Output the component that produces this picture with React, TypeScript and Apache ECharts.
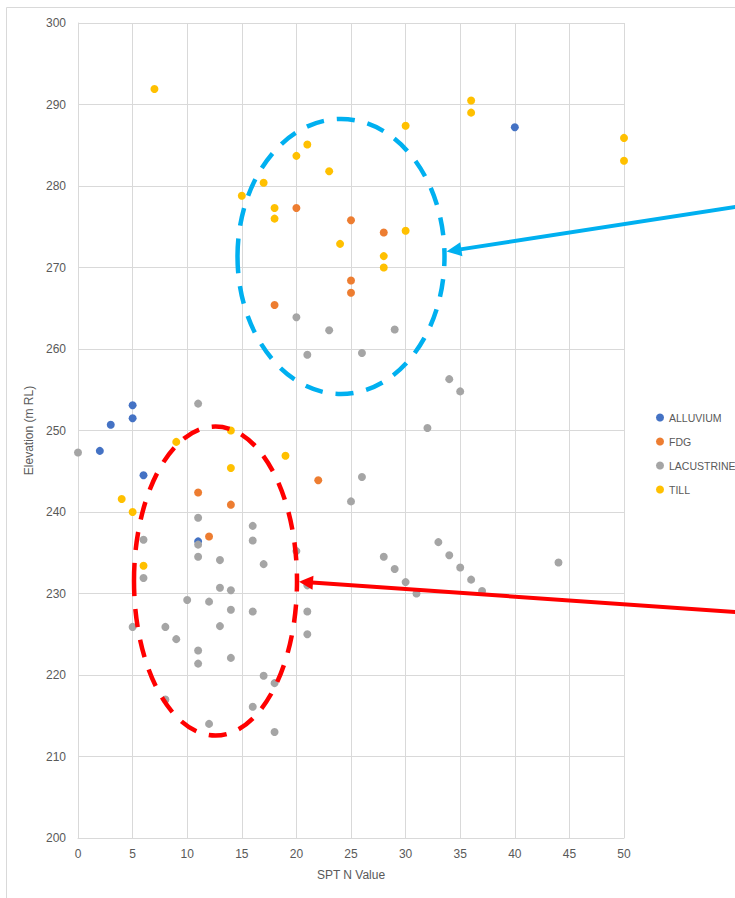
import React, { useEffect, useRef } from "react";
import * as echarts from "echarts";

const seriesNames = ["ALLUVIUM", "FDG", "LACUSTRINE", "TILL"];
const seriesColors = ["#4472C4", "#ED7D31", "#A5A5A5", "#FFC000"];

const alluvium = [[40, 287.2], [5, 253.1], [5, 251.5], [3, 250.7], [2, 247.5], [6, 244.5], [11, 236.4]];
const fdg = [[20, 277.3], [25, 275.8], [28, 274.3], [25, 268.4], [25, 266.9], [18, 265.4], [22, 243.9], [11, 242.4], [14, 240.9], [12, 237.0]];
const lacustrine = [
  [0, 247.3], [11, 253.3], [11, 239.3], [11, 236.0], [11, 234.5], [6, 236.6], [6, 231.9], [13, 234.1], [13, 230.7],
  [14, 230.4], [16, 238.3], [16, 236.5], [5, 225.9], [10, 229.2], [12, 229.0], [14, 228.0], [16, 227.8], [13, 226.0],
  [8, 225.9], [9, 224.4], [11, 223.0], [11, 221.4], [14, 222.1], [8, 217.0], [12, 214.0], [16, 216.1], [17, 219.9],
  [18, 219.0], [18, 213.0], [21, 227.8], [21, 225.0], [21, 231.0], [20, 235.2], [30, 231.4], [31, 230.0], [35, 233.2],
  [36, 231.7], [37, 230.3], [44, 233.8], [35, 254.8], [20, 263.9], [23, 262.3], [29, 262.4], [21, 259.3], [26, 259.5],
  [34, 256.3], [32, 250.3], [26, 244.3], [25, 241.3], [17, 233.6], [28, 234.5], [29, 233.0], [33, 236.3], [34, 234.7],
];
const till = [
  [7, 291.9], [15, 278.8], [36, 290.5], [36, 289.0], [30, 287.4], [21, 285.1], [20, 283.7], [23, 281.8], [17, 280.4],
  [18, 277.3], [18, 276.0], [30, 274.5], [24, 272.9], [28, 271.4], [28, 270.0], [50, 285.9], [50, 283.1], [9, 248.6],
  [14, 250.0], [14, 245.4], [4, 241.6], [5, 240.0], [6, 233.4], [19, 246.9],
];
const seriesData = [alluvium, fdg, lacustrine, till];

const xTitle = "SPT N Value";
const yTitle = "Elevation (m RL)";

const FONT = "Liberation Sans";
const TEXT = "#595959";
const GRID = "#D9D9D9";

function arrow(x1: number, y1: number, tx: number, ty: number, color: string, headLen: number, headHalf: number) {
  const dx = tx - x1;
  const dy = ty - y1;
  const len = Math.sqrt(dx * dx + dy * dy);
  const ux = dx / len;
  const uy = dy / len;
  const bx = tx - ux * headLen;
  const by = ty - uy * headLen;
  const nx = -uy;
  const ny = ux;
  return [
    {
      type: "line",
      z: 100,
      shape: { x1, y1, x2: bx + ux * 1, y2: by + uy * 1 },
      style: { stroke: color, lineWidth: 4 },
    },
    {
      type: "polygon",
      z: 100,
      shape: {
        points: [
          [tx, ty],
          [bx + nx * headHalf, by + ny * headHalf],
          [bx - nx * headHalf, by - ny * headHalf],
        ],
      },
      style: { fill: color },
    },
  ];
}

export default function App() {
  const ref = useRef<HTMLDivElement>(null);
  useEffect(() => {
    document.body.style.margin = "0";
    const chart = echarts.init(ref.current!, null, { renderer: "svg" });
    chart.setOption({
      animation: false,
      textStyle: { fontFamily: FONT },
      grid: { left: 78, top: 23, right: 111, bottom: 60, containLabel: false },
      legend: {
        orient: "vertical",
        left: 651,
        top: 407,
        itemWidth: 8,
        itemHeight: 8,
        itemGap: 13,
        icon: "circle",
        textStyle: { color: TEXT, fontSize: 10.5, fontFamily: FONT },
        data: seriesNames,
      },
      xAxis: {
        type: "value",
        min: 0,
        max: 50,
        interval: 5,
        name: xTitle,
        nameLocation: "middle",
        nameGap: 31,
        nameTextStyle: { color: TEXT, fontSize: 12, fontFamily: FONT },
        axisLine: { show: true, lineStyle: { color: GRID, width: 1 } },
        axisTick: { show: false },
        axisLabel: { color: TEXT, fontSize: 12, margin: 10, fontFamily: FONT },
        splitLine: { show: true, lineStyle: { color: GRID, width: 1 } },
      },
      yAxis: {
        type: "value",
        min: 200,
        max: 300,
        interval: 10,
        name: yTitle,
        nameLocation: "middle",
        nameGap: 38,
        nameRotate: 90,
        nameTextStyle: { color: TEXT, fontSize: 12, fontFamily: FONT },
        axisLine: { show: true, lineStyle: { color: GRID, width: 1 } },
        axisTick: { show: false },
        axisLabel: { color: TEXT, fontSize: 12, margin: 12, fontFamily: FONT },
        splitLine: { show: true, lineStyle: { color: GRID, width: 1 } },
      },
      series: seriesNames.map((name, i) => ({
        name,
        type: "scatter",
        data: seriesData[i],
        symbol: "circle",
        symbolSize: 8,
        itemStyle: { color: seriesColors[i], opacity: 1 },
        emphasis: { disabled: true },
      })),
      graphic: [
        {
          type: "rect",
          z: 100,
          shape: { x: 6.5, y: 7.5, width: 760, height: 920 },
          style: { fill: "none", stroke: GRID, lineWidth: 1 },
        },
        {
          type: "ellipse",
          z: 100,
          shape: { cx: 341, cy: 256.5, rx: 103.5, ry: 137.5 },
          style: { fill: "none", stroke: "#00B0F0", lineWidth: 4.5, lineDash: [18, 13] },
        },
        {
          type: "ellipse",
          z: 100,
          shape: { cx: 215.5, cy: 581, rx: 81.5, ry: 154.5 },
          style: { fill: "none", stroke: "#FF0000", lineWidth: 4.5, lineDash: [18, 13] },
        },
        ...arrow(740, 206.2, 446.5, 251.5, "#00B0F0", 15, 7),
        ...arrow(740, 612.3, 299, 581.7, "#FF0000", 14, 7),
      ],
    });
    return () => chart.dispose();
  }, []);
  return <div ref={ref} style={{ width: 735, height: 898 }} />;
}
